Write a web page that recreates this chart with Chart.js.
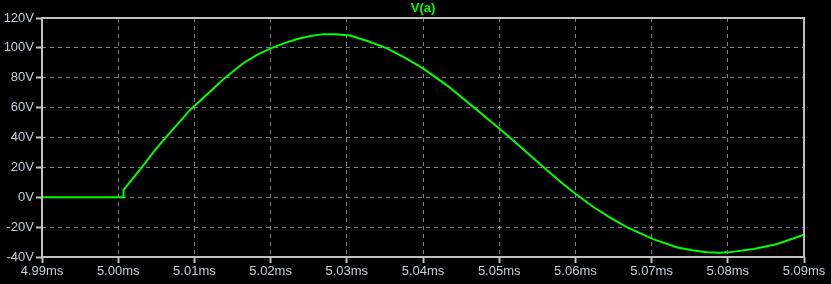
<!DOCTYPE html>
<html>
<head>
  <title>V(a)</title>
  <meta charset="utf-8">
  <script src="https://cdn.jsdelivr.net/npm/chart.js"></script>
  <style>
    body { margin: 0; background: #000; }
    canvas { display: block; }
  </style>
</head>
<body>
  <canvas id="vaChart" width="831" height="284"></canvas>

  <script>
    // time (ms) and voltage (V)
    const tempos = [4.99, 5.0007, 5.0007, 5.0015, 5.0031, 5.0046, 5.0061, 5.0078, 5.0094, 5.0119,
      5.0138, 5.0164, 5.0182, 5.0201, 5.0218, 5.0234, 5.0252, 5.0269, 5.0285, 5.0304, 5.0327,
      5.0352, 5.0376, 5.0400, 5.0431, 5.0466, 5.0500, 5.0518, 5.0553, 5.0580, 5.0600,
      5.0624, 5.0646, 5.0668, 5.0702, 5.0734, 5.0755, 5.0773, 5.0788, 5.0801, 5.0834, 5.0865, 5.0900];
    const tensoes = [0, 0, 5, 10, 20, 30, 39.3, 49, 58.3, 70,
      79, 89.7, 95.3, 99.8, 103.2, 105.8, 107.9, 109.2, 109.1, 108.3, 104.6,
      99.8, 93.4, 86.3, 75.1, 60.5, 46, 38.1, 22.5, 10.6, 2.3,
      -6.7, -13.8, -20.2, -28, -33.6, -35.6, -36.8, -37.1, -36.9, -34.7, -31.3, -25.1];

    const xTicks = [4.99, 5.00, 5.01, 5.02, 5.03, 5.04, 5.05, 5.06, 5.07, 5.08, 5.09];
    const yTicks = [-40, -20, 0, 20, 40, 60, 80, 100, 120];

    const pontos = tempos.map((t, i) => ({ x: t, y: tensoes[i] }));

    const labelColor = '#c4cedb';
    const frameColor = '#c0c0c0';

    // frame around the plot + trace name on top
    const moldura = {
      id: 'moldura',
      afterDraw(chart) {
        const ctx = chart.ctx;
        const a = chart.chartArea;
        ctx.save();
        ctx.strokeStyle = frameColor;
        ctx.lineWidth = 2;
        ctx.strokeRect(a.left, a.top, a.right - a.left, a.bottom - a.top);
        ctx.fillStyle = '#00ff00';
        ctx.font = 'bold 13px "Liberation Sans", Arial, sans-serif';
        ctx.textAlign = 'center';
        ctx.textBaseline = 'middle';
        ctx.fillText('V(a)', (a.left + a.right) / 2, 8);
        ctx.restore();
      }
    };

    const ctx = document.getElementById('vaChart').getContext('2d');
    new Chart(ctx, {
      type: 'line',
      data: {
        datasets: [{
          label: 'V(a)',
          data: pontos,
          borderColor: '#00ff00',
          borderWidth: 2,
          pointRadius: 0,
          tension: 0,
          fill: false
        }]
      },
      plugins: [moldura],
      options: {
        responsive: false,
        animation: false,
        layout: { padding: { left: 0, top: 18, right: 27, bottom: 0 } },
        plugins: {
          legend: { display: false },
          tooltip: { enabled: false }
        },
        scales: {
          x: {
            type: 'linear',
            min: 4.99,
            max: 5.09,
            afterBuildTicks: s => { s.ticks = xTicks.map(v => ({ value: v })); },
            afterFit: s => { s.height = 27; },
            grid: {
              color: '#808080',
              lineWidth: 1,
              tickLength: 6,
              tickColor: frameColor,
              tickWidth: 2
            },
            border: { display: false, dash: [4, 4] },
            ticks: {
              color: labelColor,
              padding: 1,
              maxRotation: 0,
              autoSkip: false,
              font: { family: '"Liberation Sans", Arial, sans-serif', size: 13 },
              callback: v => v.toFixed(2) + 'ms'
            }
          },
          y: {
            min: -40,
            max: 120,
            afterBuildTicks: s => { s.ticks = yTicks.map(v => ({ value: v })); },
            afterFit: s => { s.width = 42; },
            grid: {
              color: '#808080',
              lineWidth: 1,
              tickLength: 6,
              tickColor: frameColor,
              tickWidth: 2
            },
            border: { display: false, dash: [4, 4] },
            ticks: {
              color: labelColor,
              padding: 2,
              autoSkip: false,
              font: { family: '"Liberation Sans", Arial, sans-serif', size: 13 },
              callback: v => v + 'V'
            }
          }
        }
      }
    });
  </script>
</body>
</html>
